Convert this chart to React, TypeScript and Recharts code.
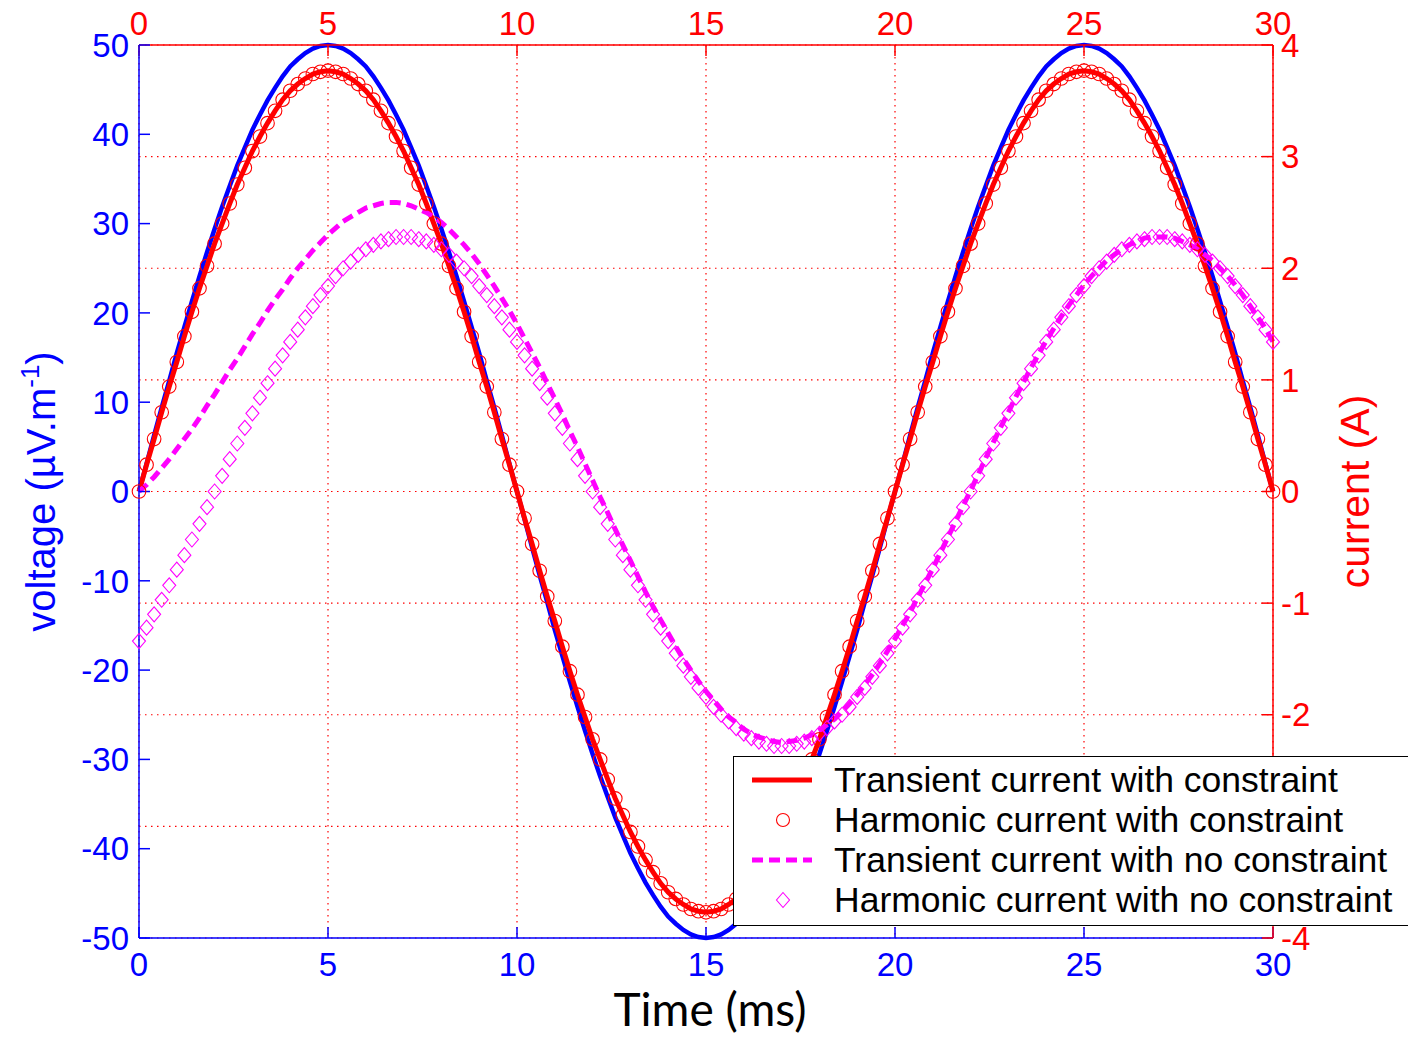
import React from 'react';
import { CartesianGrid, Legend, Line, LineChart, XAxis, YAxis } from 'recharts';

const BLUE = '#0000ff';
const RED = '#ff0000';
const MAGENTA = '#ff00ff';
const FONT = '"Liberation Sans", Arial, Helvetica, sans-serif';

// Samples are taken every 0.2 ms from 0 to 30 ms
const SAMPLE_STEP_MS = 0.2;

const timeTicks = [0, 5, 10, 15, 20, 25, 30];
const voltageTicks = [-50, -40, -30, -20, -10, 0, 10, 20, 30, 40, 50];
const currentTicks = [-4, -3, -2, -1, 0, 1, 2, 3, 4];

// voltage (µV/m), left axis
const voltage = [
  0, 3.1, 6.3, 9.4, 12.4, 15.5, 18.4, 21.3, 24.1, 26.8,
  29.4, 31.9, 34.2, 36.5, 38.5, 40.5, 42.2, 43.8, 45.2, 46.5,
  47.6, 48.4, 49.1, 49.6, 49.9, 50, 49.9, 49.6, 49.1, 48.4,
  47.6, 46.5, 45.2, 43.8, 42.2, 40.5, 38.5, 36.5, 34.2, 31.9,
  29.4, 26.8, 24.1, 21.3, 18.4, 15.5, 12.4, 9.4, 6.3, 3.1,
  0, -3.1, -6.3, -9.4, -12.4, -15.5, -18.4, -21.3, -24.1, -26.8,
  -29.4, -31.9, -34.2, -36.5, -38.5, -40.5, -42.2, -43.8, -45.2, -46.5,
  -47.6, -48.4, -49.1, -49.6, -49.9, -50, -49.9, -49.6, -49.1, -48.4,
  -47.6, -46.5, -45.2, -43.8, -42.2, -40.5, -38.5, -36.5, -34.2, -31.9,
  -29.4, -26.8, -24.1, -21.3, -18.4, -15.5, -12.4, -9.4, -6.3, -3.1,
  0, 3.1, 6.3, 9.4, 12.4, 15.5, 18.4, 21.3, 24.1, 26.8,
  29.4, 31.9, 34.2, 36.5, 38.5, 40.5, 42.2, 43.8, 45.2, 46.5,
  47.6, 48.4, 49.1, 49.6, 49.9, 50, 49.9, 49.6, 49.1, 48.4,
  47.6, 46.5, 45.2, 43.8, 42.2, 40.5, 38.5, 36.5, 34.2, 31.9,
  29.4, 26.8, 24.1, 21.3, 18.4, 15.5, 12.4, 9.4, 6.3, 3.1,
  0,
];

// current with constraint (A): transient and harmonic solutions overlap
const currentConstrained = [
  0, 0.24, 0.47, 0.71, 0.94, 1.16, 1.39, 1.61, 1.82, 2.02,
  2.22, 2.4, 2.58, 2.75, 2.9, 3.05, 3.18, 3.3, 3.41, 3.51,
  3.59, 3.65, 3.7, 3.74, 3.76, 3.77, 3.76, 3.74, 3.7, 3.65,
  3.59, 3.51, 3.41, 3.3, 3.18, 3.05, 2.9, 2.75, 2.58, 2.4,
  2.22, 2.02, 1.82, 1.61, 1.39, 1.16, 0.94, 0.71, 0.47, 0.24,
  0, -0.24, -0.47, -0.71, -0.94, -1.16, -1.39, -1.61, -1.82, -2.02,
  -2.22, -2.4, -2.58, -2.75, -2.9, -3.05, -3.18, -3.3, -3.41, -3.51,
  -3.59, -3.65, -3.7, -3.74, -3.76, -3.77, -3.76, -3.74, -3.7, -3.65,
  -3.59, -3.51, -3.41, -3.3, -3.18, -3.05, -2.9, -2.75, -2.58, -2.4,
  -2.22, -2.02, -1.82, -1.61, -1.39, -1.16, -0.94, -0.71, -0.47, -0.24,
  0, 0.24, 0.47, 0.71, 0.94, 1.16, 1.39, 1.61, 1.82, 2.02,
  2.22, 2.4, 2.58, 2.75, 2.9, 3.05, 3.18, 3.3, 3.41, 3.51,
  3.59, 3.65, 3.7, 3.74, 3.76, 3.77, 3.76, 3.74, 3.7, 3.65,
  3.59, 3.51, 3.41, 3.3, 3.18, 3.05, 2.9, 2.75, 2.58, 2.4,
  2.22, 2.02, 1.82, 1.61, 1.39, 1.16, 0.94, 0.71, 0.47, 0.24,
  0,
];

// transient current with no constraint (A)
const transientFree = [
  0, 0.06, 0.13, 0.21, 0.29, 0.38, 0.47, 0.56, 0.66, 0.77,
  0.87, 0.98, 1.09, 1.19, 1.3, 1.41, 1.51, 1.62, 1.72, 1.81,
  1.91, 2.0, 2.08, 2.16, 2.23, 2.3, 2.36, 2.42, 2.46, 2.5,
  2.54, 2.56, 2.58, 2.59, 2.59, 2.58, 2.56, 2.53, 2.5, 2.46,
  2.41, 2.35, 2.28, 2.21, 2.13, 2.04, 1.94, 1.84, 1.73, 1.62,
  1.5, 1.37, 1.24, 1.11, 0.97, 0.83, 0.69, 0.54, 0.4, 0.25,
  0.1, -0.05, -0.19, -0.34, -0.48, -0.62, -0.76, -0.9, -1.03, -1.15,
  -1.27, -1.39, -1.5, -1.6, -1.7, -1.79, -1.87, -1.95, -2.02, -2.07,
  -2.13, -2.17, -2.2, -2.22, -2.24, -2.25, -2.24, -2.23, -2.21, -2.18,
  -2.14, -2.09, -2.04, -1.97, -1.9, -1.82, -1.73, -1.64, -1.54, -1.43,
  -1.32, -1.2, -1.08, -0.95, -0.82, -0.69, -0.55, -0.41, -0.27, -0.13,
  0.01, 0.15, 0.3, 0.44, 0.58, 0.71, 0.85, 0.98, 1.11, 1.23,
  1.35, 1.46, 1.57, 1.67, 1.76, 1.85, 1.93, 2.0, 2.07, 2.12,
  2.17, 2.21, 2.24, 2.27, 2.28, 2.28, 2.28, 2.27, 2.24, 2.21,
  2.17, 2.12, 2.07, 2.0, 1.93, 1.85, 1.76, 1.66, 1.56, 1.46,
  1.34,
];

// harmonic current with no constraint (A)
const harmonicFree = [
  -1.34, -1.22, -1.1, -0.97, -0.84, -0.7, -0.57, -0.43, -0.29, -0.14,
  0, 0.14, 0.29, 0.43, 0.57, 0.7, 0.84, 0.97, 1.1, 1.22,
  1.34, 1.45, 1.56, 1.66, 1.76, 1.84, 1.93, 2.0, 2.06, 2.12,
  2.17, 2.21, 2.24, 2.26, 2.28, 2.28, 2.28, 2.26, 2.24, 2.21,
  2.17, 2.12, 2.06, 2.0, 1.93, 1.84, 1.76, 1.66, 1.56, 1.45,
  1.34, 1.22, 1.1, 0.97, 0.84, 0.7, 0.57, 0.43, 0.29, 0.14,
  0, -0.14, -0.29, -0.43, -0.57, -0.7, -0.84, -0.97, -1.1, -1.22,
  -1.34, -1.45, -1.56, -1.66, -1.76, -1.84, -1.93, -2.0, -2.06, -2.12,
  -2.17, -2.21, -2.24, -2.26, -2.28, -2.28, -2.28, -2.26, -2.24, -2.21,
  -2.17, -2.12, -2.06, -2.0, -1.93, -1.84, -1.76, -1.66, -1.56, -1.45,
  -1.34, -1.22, -1.1, -0.97, -0.84, -0.7, -0.57, -0.43, -0.29, -0.14,
  0, 0.14, 0.29, 0.43, 0.57, 0.7, 0.84, 0.97, 1.1, 1.22,
  1.34, 1.45, 1.56, 1.66, 1.76, 1.84, 1.93, 2.0, 2.06, 2.12,
  2.17, 2.21, 2.24, 2.26, 2.28, 2.28, 2.28, 2.26, 2.24, 2.21,
  2.17, 2.12, 2.06, 2.0, 1.93, 1.84, 1.76, 1.66, 1.56, 1.45,
  1.34,
];

const legendNames = [
  'Transient current with constraint',
  'Harmonic current with constraint',
  'Transient current with no constraint',
  'Harmonic current with no constraint',
];

const data = voltage.map((v, i) => ({
  t: Math.round(i * SAMPLE_STEP_MS * 10) / 10,
  voltage: v,
  transientConstrained: currentConstrained[i],
  harmonicConstrained: currentConstrained[i],
  transientFree: transientFree[i],
  harmonicFree: harmonicFree[i],
}));

const DiamondDot = (props: any) => {
  const { cx, cy, index } = props;
  if (cx == null || cy == null) return <g key={`d-${index}`} />;
  return (
    <path
      key={`d-${index}`}
      d={`M${cx},${cy - 7.5} L${cx + 6.5},${cy} L${cx},${cy + 7.5} L${cx - 6.5},${cy} Z`}
      fill="none"
      stroke={MAGENTA}
      strokeWidth={1.1}
    />
  );
};

const LegendBox = () => {
  const rowY = [24, 64, 104, 144];
  return (
    <div style={{ width: 690, height: 170, background: '#fff', border: '1.5px solid #000', boxSizing: 'border-box' }}>
      <svg width={690} height={170} style={{ display: 'block', marginTop: -1.5, marginLeft: -1.5 }}>
        <line x1={19} x2={79} y1={rowY[0]} y2={rowY[0]} stroke={RED} strokeWidth={5} />
        <circle cx={50} cy={rowY[1]} r={6.5} fill="none" stroke={RED} strokeWidth={1.1} />
        <line x1={19} x2={79} y1={rowY[2]} y2={rowY[2]} stroke={MAGENTA} strokeWidth={5} strokeDasharray="11 6" />
        <path
          d={`M50,${rowY[3] - 7.5} L56.5,${rowY[3]} L50,${rowY[3] + 7.5} L43.5,${rowY[3]} Z`}
          fill="none"
          stroke={MAGENTA}
          strokeWidth={1.1}
        />
        {legendNames.map((name, i) => (
          <text key={name} x={101} y={rowY[i] + 12} fontFamily={FONT} fontSize={35.5} fill="#000">
            {name}
          </text>
        ))}
      </svg>
    </div>
  );
};

const VoltageTitle = (props: any) => {
  const vb = props.viewBox || { x: 0, y: 45, width: 139, height: 893 };
  const cy = vb.y + vb.height / 2;
  const x = 55;
  return (
    <text
      x={x}
      y={cy}
      transform={`rotate(-90, ${x}, ${cy})`}
      textAnchor="middle"
      fontFamily={FONT}
      fontSize={40}
      fill={BLUE}
    >
      voltage (µV.m
      <tspan fontSize={26} dy={-16}>-1</tspan>
      <tspan dy={16}>)</tspan>
    </text>
  );
};

const CurrentTitle = (props: any) => {
  const vb = props.viewBox || { x: 1273, y: 45, width: 135, height: 893 };
  const cy = vb.y + vb.height / 2;
  const x = 1369;
  return (
    <text
      x={x}
      y={cy}
      transform={`rotate(-90, ${x}, ${cy})`}
      textAnchor="middle"
      fontFamily={FONT}
      fontSize={41}
      fill={RED}
    >
      current (A)
    </text>
  );
};

const TimeTitle = () => (
  <text x={710} y={1026} textAnchor="middle" fontFamily="Lato, 'Open Sans', sans-serif" fontSize={46} fill="#000">
    Time (ms)
  </text>
);

const blueTick = { fill: BLUE, fontSize: 33, fontFamily: FONT };
const redTick = { fill: RED, fontSize: 33, fontFamily: FONT };

export default function App() {
  return (
    <div style={{ position: 'absolute', left: 0, top: 0, width: 1408, height: 1037, overflow: 'hidden', background: '#fff' }}>
      <LineChart width={1408} height={1037} data={data} margin={{ top: 0, right: 0, bottom: 0, left: 0 }}>
        <CartesianGrid xAxisId="bottom" yAxisId="current" stroke={RED} strokeWidth={1.2} strokeDasharray="1.5 4.5" />
        <XAxis
          xAxisId="bottom"
          dataKey="t"
          type="number"
          domain={[0, 30]}
          ticks={timeTicks}
          interval={0}
          height={99}
          axisLine={{ stroke: BLUE, strokeWidth: 1.5 }}
          tickLine={{ stroke: BLUE, strokeWidth: 1.5 }}
          tickSize={-11}
          tickMargin={26}
          tick={blueTick}
          label={<TimeTitle />}
        />
        <XAxis
          xAxisId="top"
          orientation="top"
          dataKey="t"
          type="number"
          domain={[0, 30]}
          ticks={timeTicks}
          interval={0}
          height={45}
          axisLine={{ stroke: RED, strokeWidth: 1.5 }}
          tickLine={{ stroke: RED, strokeWidth: 1.5 }}
          tickSize={-11}
          tickMargin={21}
          tick={redTick}
        />
        <YAxis
          yAxisId="voltage"
          type="number"
          domain={[-50, 50]}
          ticks={voltageTicks}
          interval={0}
          width={139}
          axisLine={{ stroke: BLUE, strokeWidth: 1.5 }}
          tickLine={{ stroke: BLUE, strokeWidth: 1.5 }}
          tickSize={-11}
          tickMargin={21}
          tick={blueTick}
          label={<VoltageTitle />}
        />
        <YAxis
          yAxisId="current"
          orientation="right"
          type="number"
          domain={[-4, 4]}
          ticks={currentTicks}
          interval={0}
          width={135}
          axisLine={{ stroke: RED, strokeWidth: 1.5 }}
          tickLine={{ stroke: RED, strokeWidth: 1.5 }}
          tickSize={-11}
          tickMargin={19}
          tick={redTick}
          label={<CurrentTitle />}
        />
        <Line
          xAxisId="bottom"
          yAxisId="voltage"
          dataKey="voltage"
          type="linear"
          stroke={BLUE}
          strokeWidth={4.5}
          dot={false}
          activeDot={false}
          isAnimationActive={false}
        />
        <Line
          xAxisId="bottom"
          yAxisId="current"
          dataKey="transientConstrained"
          name={legendNames[0]}
          type="linear"
          stroke={RED}
          strokeWidth={5}
          dot={false}
          activeDot={false}
          isAnimationActive={false}
        />
        <Line
          xAxisId="bottom"
          yAxisId="current"
          dataKey="harmonicConstrained"
          name={legendNames[1]}
          type="linear"
          stroke="none"
          dot={{ r: 6.8, fill: 'none', stroke: RED, strokeWidth: 1.1 }}
          activeDot={false}
          isAnimationActive={false}
        />
        <Line
          xAxisId="bottom"
          yAxisId="current"
          dataKey="transientFree"
          name={legendNames[2]}
          type="linear"
          stroke={MAGENTA}
          strokeWidth={5}
          strokeDasharray="11 6"
          dot={false}
          activeDot={false}
          isAnimationActive={false}
        />
        <Line
          xAxisId="bottom"
          yAxisId="current"
          dataKey="harmonicFree"
          name={legendNames[3]}
          type="linear"
          stroke="none"
          dot={DiamondDot}
          activeDot={false}
          isAnimationActive={false}
        />
        <Legend
          layout="vertical"
          align="center"
          verticalAlign="middle"
          content={<LegendBox />}
          wrapperStyle={{ left: 733, top: 756, width: 690, height: 170 }}
        />
      </LineChart>
    </div>
  );
}
